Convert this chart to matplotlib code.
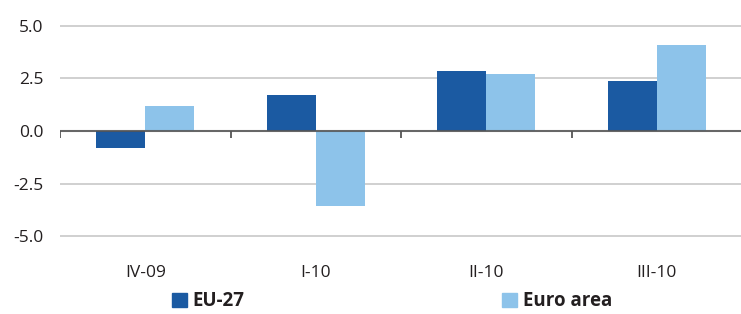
import matplotlib.pyplot as plt
import numpy as np
from matplotlib.patches import Patch

quarters = ['IV-09', 'I-10', 'II-10', 'III-10']
eu27 = [-0.8, 1.7, 2.85, 2.4]
euro_area = [1.2, -3.55, 2.7, 4.1]

dark_blue = '#1B5AA2'
light_blue = '#8DC3EA'
text_col = '#231F20'

plt.rcParams['font.family'] = ['Open Sans', 'DejaVu Sans']

fig = plt.figure(figsize=(7.41, 3.14), dpi=100)
ax = fig.add_axes([60 / 741, 0.2143, 682 / 741, 0.737])

x = np.arange(len(quarters))
w = 0.287
ax.bar(x - w / 2, eu27, width=w, color=dark_blue, zorder=2)
ax.bar(x + w / 2, euro_area, width=w, color=light_blue, zorder=2)

ax.set_xlim(-0.5, 3.5)
ax.set_ylim(-5.5, 5.5)
ax.set_yticks([-5, -2.5, 0, 2.5, 5])
ax.set_yticklabels(['-5.0', '-2.5', '0.0', '2.5', '5.0'])
ax.grid(axis='y', color='#C8C8C8', linewidth=1.2, zorder=0)
ax.axhline(0, color='#555555', linewidth=1.5, alpha=0.85, zorder=3)

# little tick marks at category boundaries, hanging off the zero line
bounds = np.arange(-0.5, len(quarters), 1.0)
ax.vlines(bounds, -0.33, 0, color='#555555', linewidth=1.3, zorder=3)

ax.set_xticks(x)
ax.set_xticklabels(quarters)
ax.tick_params(axis='x', length=0, pad=13, labelsize=12.5, labelcolor=text_col)
ax.tick_params(axis='y', length=0, pad=12, labelsize=12.5, labelcolor=text_col)
for s in ax.spines.values():
    s.set_visible(False)

leg_kw = dict(loc='center left', frameon=False, borderpad=0, borderaxespad=0,
              handlelength=0.8, handleheight=0.8, handletextpad=0.3,
              prop={'weight': 'bold', 'size': 13.5})
l1 = fig.legend(handles=[Patch(color=dark_blue, label='EU-27')],
                bbox_to_anchor=(172 / 741, 0.04), **leg_kw)
for t in l1.get_texts():
    t.set_color(text_col)
l2 = fig.legend(handles=[Patch(color=light_blue, label='Euro area')],
                bbox_to_anchor=(502 / 741, 0.04), **leg_kw)
for t in l2.get_texts():
    t.set_color(text_col)

fig.savefig('out.png', dpi=100)
